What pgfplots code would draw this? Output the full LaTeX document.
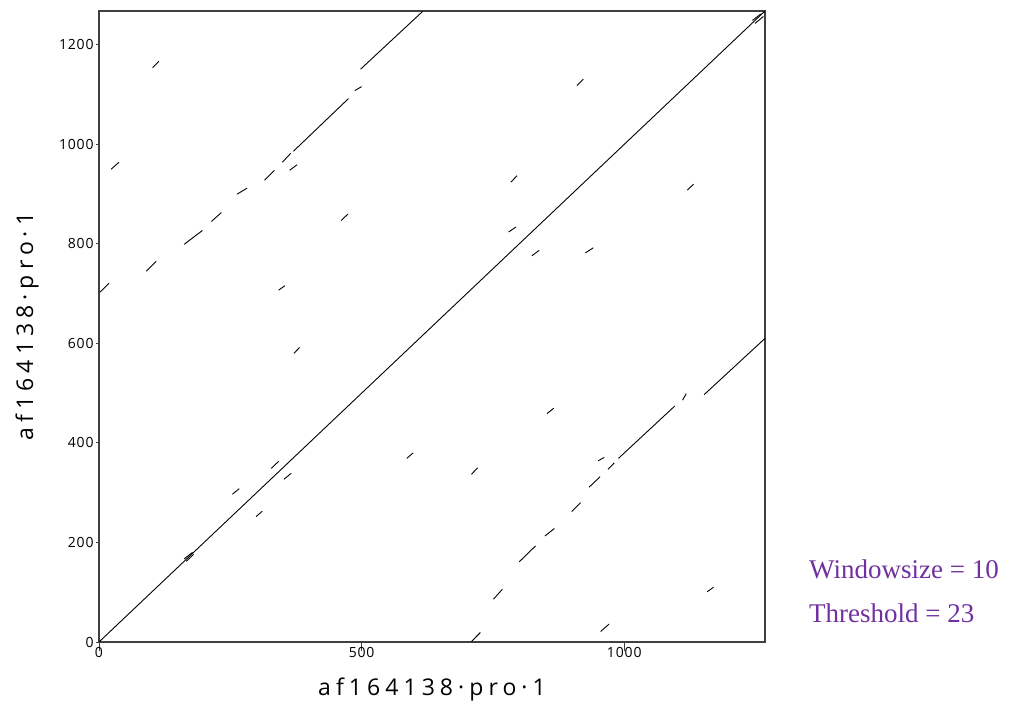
\documentclass[border=0pt]{standalone}
\usepackage{pgfplots}
\pgfplotsset{compat=1.18}
\usepackage{pgfplotstable}
\usepackage{fontspec}
\setmainfont{Liberation Serif}
\newfontfamily\plotfont[LetterSpace=6]{Open Sans}
\newfontfamily\labelfont[LetterSpace=22]{Open Sans}
\definecolor{notepurple}{RGB}{112,48,160}
\definecolor{framegray}{RGB}{64,64,64}

% main identity diagonal
\pgfplotstableread{
x y
0 0
1268 1268
}\diagonal

% repeat band above the diagonal (segments separated by nan rows)
\pgfplotstableread{
x y
2 703
19 721
nan nan
90 745
109 765
nan nan
162 799
197 827
nan nan
214 845
233 863
nan nan
263 900
282 912
nan nan
315 928
334 948
nan nan
349 964
365 982
nan nan
370 986
475 1092
nan nan
487 1108
500 1116
nan nan
498 1151
616 1267
}\upperband

% repeat band below the diagonal
\pgfplotstableread{
x y
709 1
726 19
nan nan
751 86
768 106
nan nan
800 161
831 193
nan nan
849 213
867 228
nan nan
900 262
917 280
nan nan
933 311
954 332
nan nan
969 347
981 360
nan nan
989 369
1096 474
nan nan
1111 486
1118 499
nan nan
1152 497
1271 613
}\lowerband

% short isolated matches
\pgfplotstableread{
x y
102 1154
114 1167
nan nan
23 950
38 964
nan nan
363 948
377 959
nan nan
461 847
474 860
nan nan
342 707
354 716
nan nan
371 580
382 592
nan nan
910 1118
922 1131
nan nan
784 924
796 937
nan nan
780 824
794 834
nan nan
254 297
267 308
nan nan
328 349
342 363
nan nan
1158 101
1170 110
nan nan
955 21
971 36
nan nan
950 364
962 371
nan nan
853 459
866 470
nan nan
709 337
721 350
nan nan
586 369
598 380
nan nan
1120 908
1132 920
nan nan
926 782
941 792
nan nan
824 776
838 787
nan nan
299 252
311 263
nan nan
352 327
366 339
nan nan
1244 1249
1260 1262
nan nan
1249 1243
1265 1257
nan nan
162 167
178 180
nan nan
166 162
180 176
}\shortmatches

\begin{document}
\begin{tikzpicture}
\path[use as bounding box] (0,0) rectangle (1011bp,706bp);
\begin{axis}[
  at={(99bp,64bp)}, anchor=south west,
  width=666bp, height=631bp, scale only axis,
  xmin=0, xmax=1268, ymin=0, ymax=1268,
  xtick={0,500,1000}, ytick={0,200,400,600,800,1000,1200},
  tick align=outside, xtick pos=bottom, ytick pos=left,
  xtick style={framegray, line width=1bp, /pgfplots/major tick length=9bp},
  ytick style={framegray, line width=1bp, /pgfplots/major tick length=3bp},
  axis line style={framegray, line width=1.6bp},
  /pgf/number format/assume math mode=true,
  /pgf/number format/1000 sep={},
  ticklabel style={font=\plotfont\fontsize{14bp}{16bp}\selectfont},
  yticklabel style={inner sep=1bp},
  xticklabel style={inner sep=1bp},
  xlabel={af164138·pro·1},
  ylabel={af164138·pro·1},
  label style={font=\labelfont\fontsize{23bp}{26bp}\selectfont},
  xlabel style={at={(axis description cs:0.5,0)}, anchor=center, yshift=-47bp},
  ylabel style={at={(axis description cs:0,0.5)}, anchor=center, yshift=72bp},
  unbounded coords=jump,
]
\addplot[black, line width=0.9bp, no marks] table[x=x, y=y] {\diagonal};
\addplot[black, line width=0.9bp, no marks] table[x=x, y=y] {\upperband};
\addplot[black, line width=0.9bp, no marks] table[x=x, y=y] {\lowerband};
\addplot[black, line width=0.9bp, no marks] table[x=x, y=y] {\shortmatches};
\end{axis}
\node[anchor=base west, text=notepurple, font=\fontsize{27bp}{30bp}\selectfont, inner sep=0pt]
  at (809bp,127bp) {Windowsize = 10};
\node[anchor=base west, text=notepurple, font=\fontsize{27bp}{30bp}\selectfont, inner sep=0pt]
  at (809bp,83bp) {Threshold = 23};
\end{tikzpicture}
\end{document}
